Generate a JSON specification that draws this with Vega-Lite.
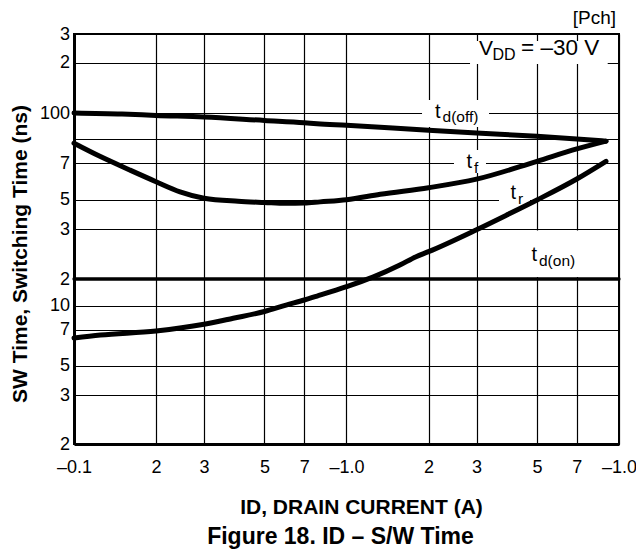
{
  "$schema": "https://vega.github.io/schema/vega-lite/v6.json",
  "width": 545,
  "height": 410,
  "autosize": {"type": "none"},
  "padding": {"left": 74, "top": 34, "right": 17, "bottom": 112},
  "background": "white",
  "config": {"view": {"stroke": "#000", "strokeWidth": 2}, "font": "Liberation Sans"},
  "title": {"text": "Figure 18. ID – S/W Time", "orient": "bottom", "anchor": "middle", "font": "Liberation Sans", "fontSize": 23, "fontWeight": "bold", "color": "#000", "offset": 9, "dx": -6},
  "datasets": {
    "curves": [
      {"series": "td(off)", "current": 0.1, "time": 100.5},
      {"series": "td(off)", "current": 0.15, "time": 99.5},
      {"series": "td(off)", "current": 0.2, "time": 98.5},
      {"series": "td(off)", "current": 0.3, "time": 97.4},
      {"series": "td(off)", "current": 0.5, "time": 95.0},
      {"series": "td(off)", "current": 0.7, "time": 93.5},
      {"series": "td(off)", "current": 0.78, "time": 92.8},
      {"series": "td(off)", "current": 1.0, "time": 91.8},
      {"series": "td(off)", "current": 2.0, "time": 88.5},
      {"series": "td(off)", "current": 3.0, "time": 86.8},
      {"series": "td(off)", "current": 5.0, "time": 84.8},
      {"series": "td(off)", "current": 7.0, "time": 83.2},
      {"series": "td(off)", "current": 8.96, "time": 81.9},
      {"series": "tf", "current": 0.1, "time": 80.7},
      {"series": "tf", "current": 0.125, "time": 73.4},
      {"series": "tf", "current": 0.16, "time": 65.8},
      {"series": "tf", "current": 0.2, "time": 59.0},
      {"series": "tf", "current": 0.245, "time": 53.7},
      {"series": "tf", "current": 0.3, "time": 50.6},
      {"series": "tf", "current": 0.4, "time": 48.5},
      {"series": "tf", "current": 0.5, "time": 47.5},
      {"series": "tf", "current": 0.6, "time": 46.8},
      {"series": "tf", "current": 0.7, "time": 47.0},
      {"series": "tf", "current": 0.8, "time": 48.0},
      {"series": "tf", "current": 1.0, "time": 49.8},
      {"series": "tf", "current": 1.33, "time": 52.5},
      {"series": "tf", "current": 2.0, "time": 55.8},
      {"series": "tf", "current": 3.0, "time": 60.4},
      {"series": "tf", "current": 5.0, "time": 71.0},
      {"series": "tf", "current": 7.0, "time": 77.5},
      {"series": "tf", "current": 8.96, "time": 81.9},
      {"series": "tr", "current": 0.1, "time": 6.47},
      {"series": "tr", "current": 0.125, "time": 6.65},
      {"series": "tr", "current": 0.2, "time": 6.9},
      {"series": "tr", "current": 0.3, "time": 7.56},
      {"series": "tr", "current": 0.384, "time": 8.27},
      {"series": "tr", "current": 0.5, "time": 9.15},
      {"series": "tr", "current": 0.6, "time": 10.1},
      {"series": "tr", "current": 0.7, "time": 11.55},
      {"series": "tr", "current": 0.78, "time": 12.8},
      {"series": "tr", "current": 1.0, "time": 16.35},
      {"series": "tr", "current": 1.25, "time": 20.3},
      {"series": "tr", "current": 1.57, "time": 22.4},
      {"series": "tr", "current": 1.8, "time": 24.0},
      {"series": "tr", "current": 2.0, "time": 25.0},
      {"series": "tr", "current": 3.0, "time": 29.9},
      {"series": "tr", "current": 3.87, "time": 38.3},
      {"series": "tr", "current": 5.0, "time": 49.6},
      {"series": "tr", "current": 7.0, "time": 60.5},
      {"series": "tr", "current": 8.96, "time": 71.0},
      {"series": "td(on)", "current": 0.1, "time": 20},
      {"series": "td(on)", "current": 10, "time": 20}
    ],
    "boxes": [
      {"current": 1.893, "current2": 3.334, "time": 120.0, "time2": 90.6},
      {"current": 2.48, "current2": 3.25, "time": 76.9, "time2": 64.0},
      {"current": 3.627, "current2": 4.714, "time": 57.2, "time2": 44.0},
      {"current": 3.038, "current2": 9.83, "time": 29.7, "time2": 20.33},
      {"current": 2.84, "current2": 9.09, "time": 271.7, "time2": 196.5}
    ],
    "labels": [
      {"current": 2.113, "time": 96.7, "main": "t", "sub": "d(off)"},
      {"current": 2.756, "time": 67.0, "main": "t", "sub": "f"},
      {"current": 4.0, "time": 50.2, "main": "t", "sub": "r"},
      {"current": 4.774, "time": 23.07, "main": "t", "sub": "d(on)"}
    ],
    "vdd": [
      {"current": 3.064, "time": 222.9, "main": "V", "sub": "DD", "rest": "= –30 V"}
    ],
    "pch": [
      {"current": 9.75, "time": 343.6, "text": "[Pch]"}
    ]
  },
  "encoding": {
    "x": {
      "field": "current", "type": "quantitative",
      "scale": {"type": "log", "domain": [0.1, 10], "nice": false, "zero": false},
      "axis": {
        "values": [0.1, 0.2, 0.3, 0.5, 0.7, 1, 2, 3, 5, 7, 10],
        "labelExpr": "datum.value == 0.1 ? '–0.1' : (datum.value == 1 || datum.value == 10) ? '–1.0' : datum.value < 1 ? round(datum.value * 10) + '' : round(datum.value) + ''",
        "grid": true, "gridColor": "#000", "gridWidth": 1.2, "gridOpacity": 1,
        "ticks": false, "tickSize": 0,
        "domainColor": "#000", "domainWidth": 3,
        "labelFont": "Liberation Sans", "labelFontSize": 18, "labelColor": "#000",
        "labelPadding": 28, "labelBaseline": "alphabetic", "labelFlush": false, "labelOverlap": false,
        "title": "ID, DRAIN CURRENT (A)", "titleFont": "Liberation Sans", "titleFontSize": 21, "titleFontWeight": "bold", "titleColor": "#000",
        "titleX": 287, "titleY": 69.3, "titleBaseline": "alphabetic"
      }
    },
    "y": {
      "field": "time", "type": "quantitative",
      "scale": {
        "type": "log", "nice": false, "zero": false,
        "domain": [2, 3, 5, 7, 10, 20, 30, 50, 70, 83, 100, 200, 300],
        "range": [410, 361, 331.7, 295.5, 271.5, 245, 195.3, 165.5, 129.3, 105.3, 79.3, 28.7, 0]
      },
      "axis": {
        "values": [2, 3, 5, 7, 10, 20, 30, 50, 70, 83, 100, 200, 300],
        "labelExpr": "datum.value == 83 ? '' : (datum.value == 10 || datum.value == 100) ? datum.value + '' : datum.value < 10 ? datum.value + '' : datum.value < 100 ? round(datum.value / 10) + '' : round(datum.value / 100) + ''",
        "grid": true, "gridColor": "#000", "gridWidth": 1.2, "gridOpacity": 1,
        "ticks": false, "tickSize": 0,
        "domainColor": "#000", "domainWidth": 3,
        "labelFont": "Liberation Sans", "labelFontSize": 18, "labelColor": "#000",
        "labelPadding": 4.5, "labelOverlap": false,
        "title": "SW Time, Switching Time (ns)", "titleFont": "Liberation Sans", "titleFontSize": 21, "titleFontWeight": "bold", "titleColor": "#000",
        "titleX": -47.3, "titleY": 219.5, "titleBaseline": "alphabetic"
      }
    }
  },
  "layer": [
    {
      "data": {"name": "boxes"},
      "mark": {"type": "rect", "fill": "white", "stroke": null},
      "encoding": {"x2": {"field": "current2"}, "y2": {"field": "time2"}}
    },
    {
      "data": {"name": "curves"},
      "mark": {"type": "line", "color": "#000", "interpolate": "monotone", "strokeCap": "round", "strokeJoin": "round"},
      "encoding": {
        "detail": {"field": "series"},
        "strokeWidth": {"condition": {"test": "datum.series === 'td(on)'", "value": 3.3}, "value": 5}
      }
    },
    {
      "data": {"name": "labels"},
      "mark": {"type": "text", "align": "left", "baseline": "alphabetic", "font": "Liberation Sans", "fontSize": 20, "color": "#000"},
      "encoding": {"text": {"field": "main"}}
    },
    {
      "data": {"name": "labels"},
      "mark": {"type": "text", "align": "left", "baseline": "alphabetic", "font": "Liberation Sans", "fontSize": 15.5, "color": "#000", "dx": 7.5, "dy": 4.5},
      "encoding": {"text": {"field": "sub"}}
    },
    {
      "data": {"name": "vdd"},
      "mark": {"type": "text", "align": "left", "baseline": "alphabetic", "font": "Liberation Sans", "fontSize": 21, "color": "#000"},
      "encoding": {"text": {"field": "main"}}
    },
    {
      "data": {"name": "vdd"},
      "mark": {"type": "text", "align": "left", "baseline": "alphabetic", "font": "Liberation Sans", "fontSize": 16, "color": "#000", "dx": 13.5, "dy": 5},
      "encoding": {"text": {"field": "sub"}}
    },
    {
      "data": {"name": "vdd"},
      "mark": {"type": "text", "align": "left", "baseline": "alphabetic", "font": "Liberation Sans", "fontSize": 22.5, "color": "#000", "dx": 42},
      "encoding": {"text": {"field": "rest"}}
    },
    {
      "data": {"name": "pch"},
      "mark": {"type": "text", "align": "right", "baseline": "alphabetic", "font": "Liberation Sans", "fontSize": 19, "color": "#000"},
      "encoding": {"text": {"field": "text"}}
    }
  ]
}
